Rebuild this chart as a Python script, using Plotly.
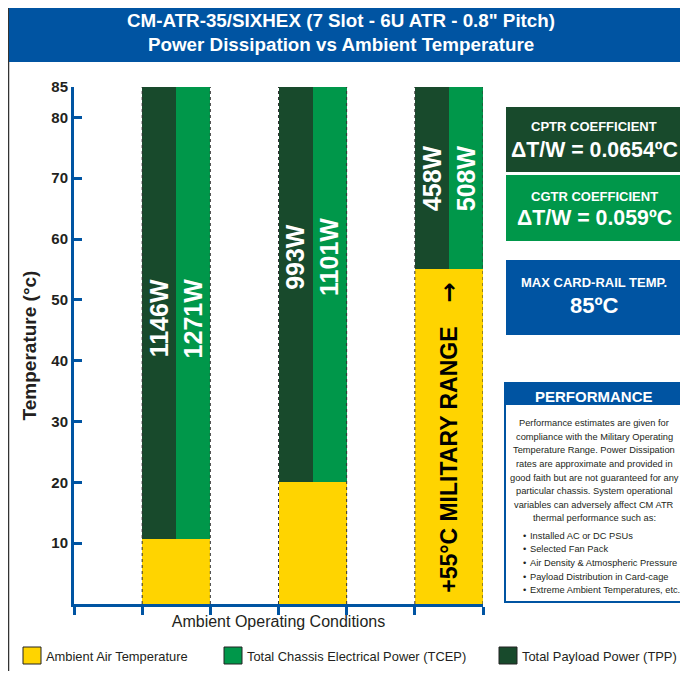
import plotly.graph_objects as go

# ---------------- data ----------------
CONDITIONS = ["Condition 1", "Condition 2", "+55°C Military Range"]
AMBIENT_C = [10.7, 20, 55]          # ambient air temperature (°C)
MAX_RAIL_C = 85                     # max card-rail temperature (°C)
TPP_W = [1146, 993, 458]            # total payload power (W)
TCEP_W = [1271, 1101, 508]          # total chassis electrical power (W)
Y_TICKS = [10, 20, 30, 40, 50, 60, 70, 80, 85]
LEGEND_LABELS = ["Ambient Air Temperature", "Total Chassis Electrical Power (TCEP)", "Total Payload Power (TPP)"]
BODY_LINES = [
    "Performance estimates are given for",
    "compliance with the Military Operating",
    "Temperature Range. Power Dissipation",
    "rates are approximate and provided in",
    "good faith but are not guaranteed for any",
    "particular chassis. System operational",
    "variables can adversely affect CM ATR",
    "thermal performance such as:",
]
BULLETS = [
    "Installed AC or DC PSUs",
    "Selected Fan Pack",
    "Air Density & Atmospheric Pressure",
    "Payload Distribution in Card-cage",
    "Extreme Ambient Temperatures, etc.",
]

# ---------------- layout helpers (screen pixel coords; page body has 8px margin) ----------------
SW, SH = 688, 679
OFF = 8
L, R, T, B = 74, 483, 87, 604
BAR_CENTERS = [1.5, 3.5, 5.5]
LABEL_Y = [47, 57, 70]

YELLOW = "#FFD400"
GREEN = "#00974A"
DKGREEN = "#184A2C"
BLUE = "#0054A2"
TXT = "#231F20"
FONT = "Liberation Sans, Arial, sans-serif"


def px(x):
    return (x - L) / (R - L)


def py(y):
    return (B - y) / (B - T)


def note(x, y, text, size, color=TXT, xanchor="center", family=FONT, **kw):
    return dict(x=px(x), y=py(y), xref="paper", yref="paper", showarrow=False, text=text,
                xanchor=xanchor, yanchor="middle", font=dict(family=family, size=size, color=color), **kw)


fig = go.Figure()
fig.add_trace(go.Bar(x=BAR_CENTERS, y=AMBIENT_C, width=1, marker=dict(color=YELLOW, line=dict(width=0)),
                     name=LEGEND_LABELS[0], showlegend=False))
fig.add_trace(go.Bar(x=[c - 0.25 for c in BAR_CENTERS], y=[MAX_RAIL_C - a for a in AMBIENT_C], base=AMBIENT_C,
                     width=0.5, marker=dict(color=DKGREEN, line=dict(width=0)), name=LEGEND_LABELS[2], showlegend=False))
fig.add_trace(go.Bar(x=[c + 0.25 for c in BAR_CENTERS], y=[MAX_RAIL_C - a for a in AMBIENT_C], base=AMBIENT_C,
                     width=0.5, marker=dict(color=GREEN, line=dict(width=0)), name=LEGEND_LABELS[1], showlegend=False))

shapes = []
annotations = []

# dotted bar edges
for c in BAR_CENTERS:
    for e in (c - 0.5, c + 0.5):
        shapes.append(dict(type="line", xref="x", yref="y", x0=e, x1=e, y0=0, y1=MAX_RAIL_C,
                           line=dict(color="#333333", width=1, dash="dot"), layer="above"))

# value labels
for c, ly, tpp, tcep in zip(BAR_CENTERS, LABEL_Y, TPP_W, TCEP_W):
    for dx, v in ((-0.25, tpp), (0.25, tcep)):
        annotations.append(dict(x=c + dx, y=ly, xref="x", yref="y", text=f"<b>{v}W</b>", textangle=-90,
                                xanchor="center", yanchor="middle", showarrow=False,
                                font=dict(family=FONT, size=25, color="white")))

annotations.append(dict(x=BAR_CENTERS[2], y=23.7, xref="x", yref="y", text="<b>+55°C MILITARY RANGE</b>",
                        textangle=-90, xanchor="center", yanchor="middle", showarrow=False,
                        font=dict(family=FONT, size=23, color="black")))
annotations.append(dict(x=BAR_CENTERS[2], y=51.2, xref="x", yref="y", text="<b>→</b>",
                        textangle=-90, xanchor="center", yanchor="middle", showarrow=False,
                        font=dict(family="DejaVu Sans, sans-serif", size=24, color="black")))

# page frame bits
shapes.append(dict(type="line", xref="paper", yref="paper", x0=px(8.5), x1=px(8.5), y0=py(SH), y1=py(OFF),
                   line=dict(color="#333333", width=1.5)))
# title band
shapes.append(dict(type="rect", xref="paper", yref="paper", x0=px(9), x1=px(SW), y0=py(62), y1=py(OFF),
                   fillcolor=BLUE, line=dict(width=0)))
annotations.append(note(341, 20, "<b>CM-ATR-35/SIXHEX (7 Slot - 6U ATR - 0.8\" Pitch)</b>", 18.8, "white"))
annotations.append(note(341, 44, "<b>Power Dissipation vs Ambient Temperature</b>", 18.8, "white"))

# right info boxes
boxes = [
    (107, 172, DKGREEN, "CPTR COEFFICIENT", "ΔT/W = 0.0654ºC", 127, 150, 21.3),
    (175, 241, GREEN, "CGTR COEFFICIENT", "ΔT/W = 0.059ºC", 196, 218, 21.3),
    (260, 335, BLUE, "MAX CARD-RAIL TEMP.", "85ºC", 282, 305, 22),
]
for y0, y1, col, t1, t2, ty1, ty2, fs in boxes:
    shapes.append(dict(type="rect", xref="paper", yref="paper", x0=px(506), x1=px(684), y0=py(y1), y1=py(y0),
                       fillcolor=col, line=dict(width=0)))
    annotations.append(note(594, ty1, f"<b>{t1}</b>", 13, "white"))
    annotations.append(note(594, ty2, f"<b>{t2}</b>", fs, "white"))

# performance box
shapes.append(dict(type="rect", xref="paper", yref="paper", x0=px(505), x1=px(684), y0=py(602), y1=py(383),
                   fillcolor="white", line=dict(color=BLUE, width=2)))
shapes.append(dict(type="rect", xref="paper", yref="paper", x0=px(505), x1=px(684), y0=py(405), y1=py(383),
                   fillcolor=BLUE, line=dict(width=0)))
annotations.append(note(594, 396, "<b>PERFORMANCE</b>", 15, "white"))
for i, line in enumerate(BODY_LINES):
    annotations.append(note(594, 423.3 + i * 13.57, line, 9.3))
for i, line in enumerate(BULLETS):
    annotations.append(note(521, 535.7 + i * 13.6, "•", 9.3, xanchor="left"))
    annotations.append(note(528, 535.7 + i * 13.6, line, 9.3, xanchor="left"))

# legend keys
leg = [(23, YELLOW, LEGEND_LABELS[0]), (224, GREEN, LEGEND_LABELS[1]), (499, DKGREEN, LEGEND_LABELS[2])]
for lx, col, lab in leg:
    shapes.append(dict(type="rect", xref="paper", yref="paper", x0=px(lx), x1=px(lx + 18), y0=py(664),
                       y1=py(647), fillcolor=col, line=dict(color="#222222", width=1)))
    annotations.append(note(lx + 21, 656, lab, 12.9, xanchor="left"))

FIG_W = SW - 2 * OFF   # keep page from scrolling (body margins left + right)
FIG_H = SH - 2 * OFF   # keep page from scrolling (body margins top + bottom)
fig.update_layout(
    width=FIG_W, height=FIG_H,
    margin=dict(l=L - OFF, r=(OFF + FIG_W) - R, t=T - OFF, b=(OFF + FIG_H) - B, pad=0),
    paper_bgcolor="white", plot_bgcolor="white",
    barmode="overlay", bargap=0,
    shapes=shapes, annotations=annotations,
    font=dict(family=FONT, color=TXT),
    xaxis=dict(range=[0, 6], tickvals=[0, 1, 2, 3, 4, 5, 6], showticklabels=False, ticks="outside",
               ticklen=8, tickwidth=2.5, tickcolor=BLUE, showline=True, linewidth=3, linecolor=BLUE,
               showgrid=False, zeroline=False, fixedrange=True,
               title=dict(text="Ambient Operating Conditions", standoff=2,
                          font=dict(family=FONT, size=16, color=TXT))),
    yaxis=dict(range=[0, 85], tickvals=Y_TICKS, ticktext=[f"<b>{v}</b>" for v in Y_TICKS], ticks="inside",
               ticklen=8, tickwidth=2.5, tickcolor=BLUE, showline=True, linewidth=3, linecolor=BLUE,
               showgrid=False, zeroline=False, tickfont=dict(family=FONT, size=15, color=TXT),
               title=dict(text="<b>Temperature (°c)</b>", standoff=10, font=dict(family=FONT, size=19, color=TXT))),
)

fig.write_html("out.html")
